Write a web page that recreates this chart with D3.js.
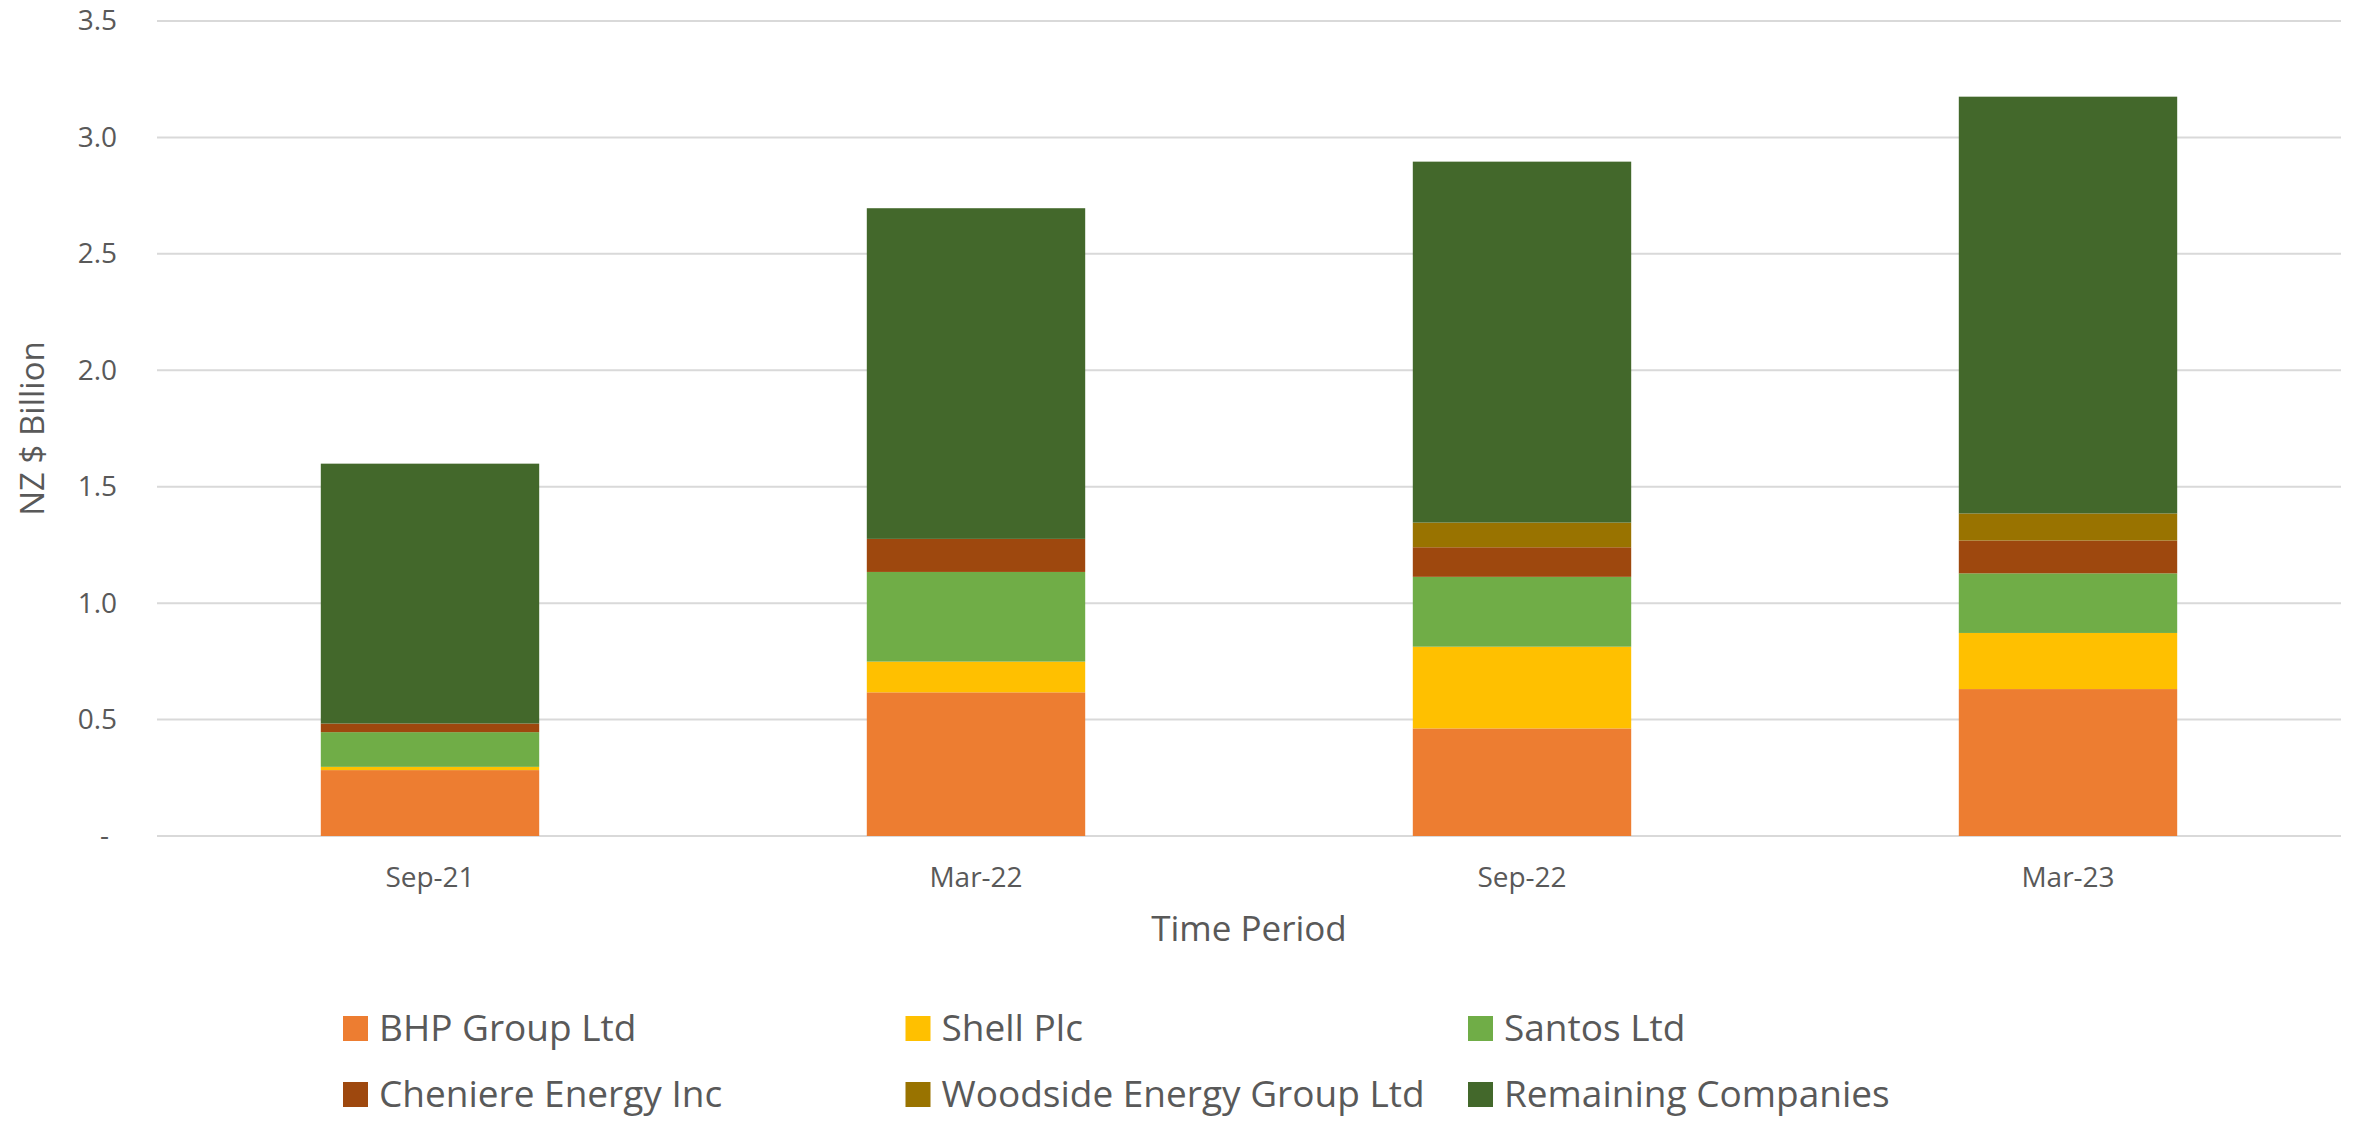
<!DOCTYPE html>
<html lang="en">
<head>
  <meta charset="UTF-8">
  <script src="https://d3js.org/d3.v7.min.js"></script>
  <title>NZ $ Billion by company</title>
  <style>
    body {
      margin: 0;
      background: #fff;
      overflow: hidden;
    }
    svg text {
      font-family: "Open Sans", "Noto Sans", sans-serif;
      fill: #595959;
    }
  </style>
</head>
<body>
<script>
  // Chart data (NZ $ billion)
  const periods = ["Sep-21", "Mar-22", "Sep-22", "Mar-23"];
  const companies = ["BHP Group Ltd", "Shell Plc", "Santos Ltd", "Cheniere Energy Inc", "Woodside Energy Group Ltd", "Remaining Companies"];
  const bhp = [0.283, 0.617, 0.462, 0.631];
  const shell = [0.014, 0.132, 0.351, 0.241];
  const santos = [0.149, 0.385, 0.300, 0.256];
  const cheniere = [0.037, 0.142, 0.127, 0.141];
  const woodside = [0, 0, 0.106, 0.116];
  const remaining = [1.116, 1.420, 1.550, 1.790];
  const yTicks = [0, 0.5, 1.0, 1.5, 2.0, 2.5, 3.0, 3.5];

  const colors = ["#ED7D31", "#FFC000", "#70AD47", "#9E480E", "#997300", "#43682B"];

  const width = 2356;
  const height = 1121;
  const margin = { top: 21, right: 15, bottom: 285, left: 157 };

  const svg = d3.select("body").append("svg")
    .attr("width", width)
    .attr("height", height);

  // build rows for d3.stack
  const seriesValues = [bhp, shell, santos, cheniere, woodside, remaining];
  const rows = periods.map((p, i) => {
    const row = { period: p };
    companies.forEach((c, k) => { row[c] = seriesValues[k][i]; });
    return row;
  });
  const stacked = d3.stack().keys(companies)(rows);

  const x = d3.scaleBand()
    .domain(periods)
    .range([margin.left, width - margin.right])
    .paddingInner(0.6)
    .paddingOuter(0.3);

  const y = d3.scaleLinear()
    .domain([0, 3.5])
    .range([height - margin.bottom, margin.top]);

  const color = d3.scaleOrdinal().domain(companies).range(colors);

  // gridlines
  svg.append("g")
    .selectAll("line")
    .data(yTicks)
    .join("line")
    .attr("x1", margin.left)
    .attr("x2", width - margin.right)
    .attr("y1", d => y(d))
    .attr("y2", d => y(d))
    .attr("stroke", "#D9D9D9")
    .attr("stroke-width", 2);

  // y axis labels
  const yAxis = svg.append("g")
    .attr("transform", `translate(${margin.left - 40},0)`)
    .call(d3.axisLeft(y).tickValues(yTicks).tickSize(0)
      .tickFormat(d => d === 0 ? "-" : d3.format(".1f")(d)));
  yAxis.select(".domain").remove();
  yAxis.selectAll("text")
    .attr("x", 0)
    .attr("dx", d => d === 0 ? -8 : 0)
    .style("font-size", "28px");

  // stacked bars
  svg.append("g")
    .selectAll("g")
    .data(stacked)
    .join("g")
    .attr("fill", d => color(d.key))
    .selectAll("rect")
    .data(d => d)
    .join("rect")
    .attr("x", d => x(d.data.period))
    .attr("width", x.bandwidth())
    .attr("y", d => y(d[1]))
    .attr("height", d => y(d[0]) - y(d[1]));

  // x axis labels
  const xAxis = svg.append("g")
    .attr("transform", `translate(0,${height - margin.bottom})`)
    .call(d3.axisBottom(x).tickSize(0).tickPadding(31));
  xAxis.select(".domain").remove();
  xAxis.selectAll("text").style("font-size", "28px");

  // axis titles
  svg.append("text")
    .attr("x", (margin.left + width - margin.right) / 2)
    .attr("y", 941)
    .attr("text-anchor", "middle")
    .style("font-size", "35px")
    .text("Time Period");

  svg.append("text")
    .attr("transform", `translate(44,${(y(0) + y(3.5)) / 2}) rotate(-90)`)
    .attr("text-anchor", "middle")
    .style("font-size", "33px")
    .text("NZ $ Billion");

  // legend, 3 columns x 2 rows
  const legend = svg.append("g")
    .selectAll("g")
    .data(companies)
    .join("g")
    .attr("transform", (d, i) => `translate(${343 + (i % 3) * 562.5},${1028 + Math.floor(i / 3) * 66})`);

  legend.append("rect")
    .attr("x", 0)
    .attr("y", -12)
    .attr("width", 25)
    .attr("height", 25)
    .attr("fill", d => color(d));

  legend.append("text")
    .attr("x", 36)
    .attr("dy", "0.35em")
    .style("font-size", "37px")
    .text(d => d);
</script>
</body>
</html>
